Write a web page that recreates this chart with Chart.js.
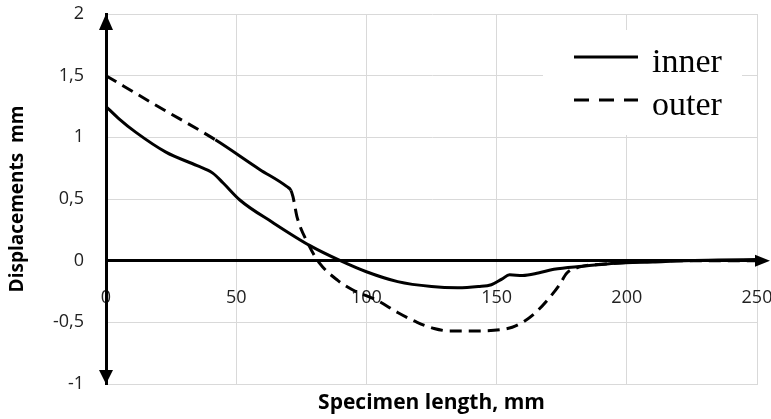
<!DOCTYPE html>
<html>
<head>
<meta charset="utf-8">
<script src="https://cdn.jsdelivr.net/npm/chart.js@4"></script>
<style>
  body { margin: 0; background: #fff; }
  #wrap { width: 771px; height: 419px; }
</style>
</head>
<body>
<div id="wrap"><canvas id="chart-disp"></canvas></div>
<script>
// inner surface displacement
var innerX = [0, 5, 11.5, 23, 35, 41, 45, 51.5, 64, 78.5, 90, 100, 112, 125, 135, 143, 148, 152, 155, 160, 166, 172, 183, 196, 210, 222, 235, 250];
var innerY = [1.25, 1.15, 1.04, 0.88, 0.77, 0.71, 0.63, 0.49, 0.31, 0.12, 0, -0.09, -0.17, -0.21, -0.22, -0.21, -0.195, -0.15, -0.115, -0.12, -0.1, -0.07, -0.045, -0.02, -0.01, 0, 0.005, 0.01];
// outer surface displacement
var outerX = [0, 20, 42, 59, 69.5, 71, 71.8, 73.3, 77.3, 82, 89, 95, 104, 112, 119.5, 126, 132, 142, 151.5, 156, 160, 165, 169.5, 174, 177, 182, 190, 200, 220, 250];
var outerY = [1.5, 1.25, 0.98, 0.74, 0.6, 0.57, 0.52, 0.36, 0.15, -0.02, -0.16, -0.24, -0.32, -0.42, -0.5, -0.55, -0.57, -0.57, -0.56, -0.54, -0.5, -0.42, -0.32, -0.2, -0.1, -0.05, -0.03, -0.015, 0, 0];
// the outer curve is drawn solid over this stretch in the original
var outerSolid = [42, 71];

var seriesNames = ["inner", "outer"];
var xTitle = "Specimen length, mm";
var yTitle = "Displacements  mm";
var xTicks = { min: 0, max: 250, step: 50 };
var yTicks = { min: -1, max: 2, step: 0.5 };

function pts(xs, ys) {
  return xs.map(function (x, i) { return { x: x, y: ys[i] }; });
}

var tickFont = { size: 18, family: "Open Sans" };
var dash = [12, 7];

// axis arrows, y title and in-plot legend
var extras = {
  id: "extras",
  afterDraw: function (chart) {
    var c = chart.ctx, a = chart.chartArea;
    var y0 = chart.scales.y.getPixelForValue(0);
    c.save();
    c.fillStyle = "#000";
    // up arrow
    c.beginPath();
    c.moveTo(a.left, a.top); c.lineTo(a.left - 7, a.top + 16); c.lineTo(a.left + 7, a.top + 16);
    c.fill();
    // down arrow
    c.beginPath();
    c.moveTo(a.left, a.bottom); c.lineTo(a.left - 7, a.bottom - 14); c.lineTo(a.left + 7, a.bottom - 14);
    c.fill();
    // right arrow
    c.beginPath();
    c.moveTo(a.right + 13, y0); c.lineTo(a.right - 2, y0 - 6); c.lineTo(a.right - 2, y0 + 6);
    c.fill();

    // y title
    c.translate(18, (a.top + a.bottom) / 2);
    c.rotate(-Math.PI / 2);
    c.font = "bold 19px 'Open Sans'";
    c.textAlign = "center";
    c.textBaseline = "middle";
    c.fillText(yTitle, 0, 0);
    c.restore();

    // legend
    c.save();
    c.fillStyle = "#fff";
    c.fillRect(543, 30, 199, 105);
    c.font = "34px 'Liberation Serif'";
    c.textBaseline = "alphabetic";
    c.textAlign = "left";
    chart.data.datasets.forEach(function (ds, i) {
      var ly = 57 + i * 43;
      c.strokeStyle = "#000";
      c.lineWidth = 3;
      c.setLineDash(ds.label === seriesNames[1] ? [15, 10] : []);
      c.beginPath();
      c.moveTo(574, ly); c.lineTo(638, ly);
      c.stroke();
      c.setLineDash([]);
      c.fillStyle = "#000";
      c.fillText(ds.label, 652, ly + 15);
    });
    c.restore();
  }
};

new Chart(document.getElementById("chart-disp"), {
  type: "line",
  data: {
    datasets: [{
      label: seriesNames[0],
      data: pts(innerX, innerY),
      borderColor: "#000",
      borderWidth: 3,
      pointRadius: 0,
      cubicInterpolationMode: "monotone",
      fill: false
    }, {
      label: seriesNames[1],
      data: pts(outerX, outerY),
      borderColor: "#000",
      borderWidth: 3,
      borderDash: dash,
      segment: {
        borderDash: function (ctx) {
          var x0 = ctx.p0.parsed.x, x1 = ctx.p1.parsed.x;
          return (x0 >= outerSolid[0] && x1 <= outerSolid[1]) ? [] : dash;
        }
      },
      pointRadius: 0,
      cubicInterpolationMode: "monotone",
      fill: false
    }]
  },
  options: {
    responsive: true,
    maintainAspectRatio: false,
    animation: false,
    layout: { padding: { top: 14, right: 14, left: 0, bottom: 0 } },
    plugins: {
      legend: { display: false },
      tooltip: { enabled: false }
    },
    scales: {
      x: {
        type: "linear",
        position: "bottom",
        min: xTicks.min,
        max: xTicks.max,
        grid: { color: "#d9d9d9", drawTicks: false },
        border: { color: "#d9d9d9", width: 1 },
        ticks: { display: false, stepSize: xTicks.step },
        title: {
          display: true,
          text: xTitle,
          color: "#000",
          font: { size: 21, weight: "bold", family: "Open Sans" },
          padding: { top: 0, bottom: 3 }
        },
        afterFit: function (s) { s.height = 35; s.paddingLeft = 0; s.paddingRight = 0; }
      },
      x2: {
        type: "linear",
        position: { y: 0 },
        min: xTicks.min,
        max: xTicks.max,
        grid: { display: false, drawTicks: false },
        border: { color: "#000", width: 3 },
        ticks: {
          stepSize: xTicks.step,
          padding: 26,
          color: "#222",
          font: tickFont
        },
        afterFit: function (s) { s.paddingLeft = 0; s.paddingRight = 0; }
      },
      y: {
        min: yTicks.min,
        max: yTicks.max,
        grid: { color: "#d9d9d9", drawTicks: false },
        border: { color: "#000", width: 3 },
        ticks: {
          stepSize: yTicks.step,
          padding: 22,
          color: "#222",
          font: tickFont,
          callback: function (v) { return String(v).replace(".", ","); }
        },
        afterFit: function (s) { s.width = 106; s.paddingTop = 0; s.paddingBottom = 0; }
      }
    }
  },
  plugins: [extras]
});
</script>
</body>
</html>
